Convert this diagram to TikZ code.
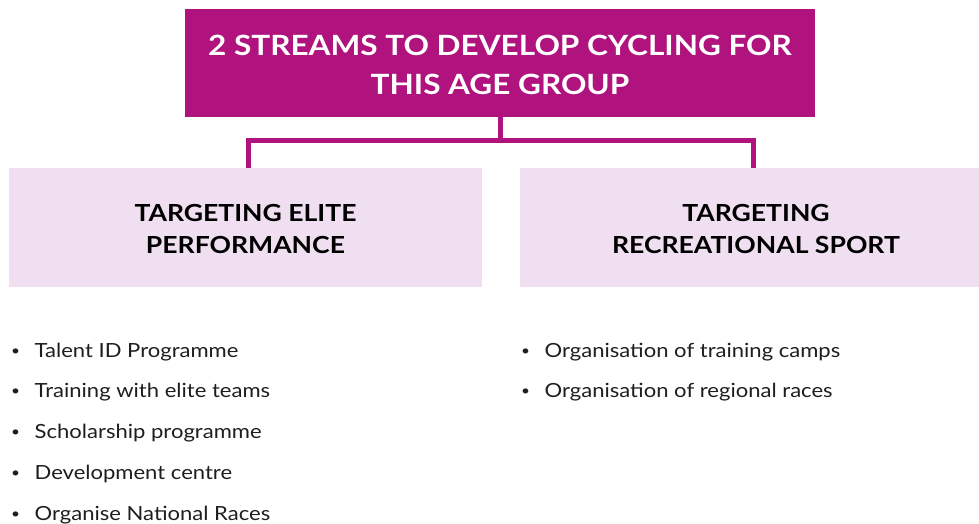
\documentclass[tikz,border=0pt]{standalone}
\usepackage{graphicx}
\usepackage{fontspec}
\setmainfont{Lato}[FakeStretch=1.13]
\definecolor{mag}{HTML}{B0137D}
\definecolor{pinkbg}{HTML}{F0DFF0}
\definecolor{bodytext}{HTML}{1E1E1E}
\newcommand{\mybul}{\makebox[25pt][l]{\hspace{1.5pt}\raisebox{2pt}{\scalebox{0.7}{\textbullet}}}}
\begin{document}
\begin{tikzpicture}[x=1pt,y=-1pt,
  topbox/.style={fill=mag,draw=none,minimum width=630pt,minimum height=108pt,
    text=white,font=\fontsize{27.9}{39}\selectfont\bfseries,align=center,inner sep=0pt},
  subbox/.style={fill=pinkbg,draw=none,minimum height=119pt,
    text=black,font=\fontsize{23.5}{32}\selectfont\bfseries,align=center,inner sep=0pt},
  conn/.style={draw=mag,line width=5pt},
  item/.style={anchor=base west,inner sep=0pt,font=\fontsize{19.5}{20}\selectfont,text=bodytext}]
\useasboundingbox (0,0) rectangle (979,524);
\node[topbox] (top) at (500,63) {\rule{0pt}{25pt}2 STREAMS TO DEVELOP CYCLING FOR\\THIS AGE GROUP};
\node[subbox,minimum width=473pt] (left) at (245.5,227.5) {\rule{0pt}{21pt}TARGETING ELITE\\PERFORMANCE};
\node[subbox,minimum width=472pt] (right) at (756,227.5) {\rule{0pt}{21pt}TARGETING\\RECREATIONAL SPORT};
\coordinate (mid) at (500,140.5);
\draw[conn] (top.south) -- (mid);
\draw[conn] ([xshift=3pt]left.north) |- (mid) -| ([xshift=-2.5pt]right.north);
\node[item] (l1) at (9.5,357) {\mybul Talent ID Programme};
\node[item] (l2) at (9.5,397.9) {\mybul Training with elite teams};
\node[item] (l3) at (9.5,438.8) {\mybul Scholarship programme};
\node[item] (l4) at (9.5,479.7) {\mybul Development centre};
\node[item] (l5) at (9.5,520.6) {\mybul Organise National Races};
\node[item] (r1) at (519.5,357) {\mybul Organisation of training camps};
\node[item] (r2) at (519.5,397.9) {\mybul Organisation of regional races};
\end{tikzpicture}
\end{document}
